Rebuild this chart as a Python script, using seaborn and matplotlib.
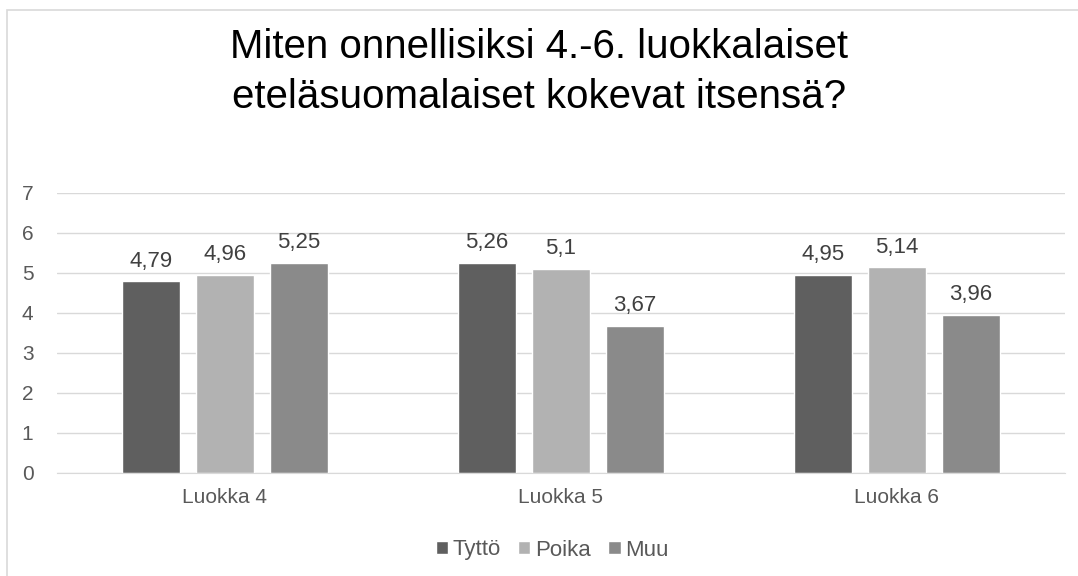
import pandas as pd
import numpy as np
import matplotlib
matplotlib.use("Agg")
import matplotlib.pyplot as plt
import seaborn as sns
from matplotlib.patches import Rectangle

# data
luokat = ["Luokka 4", "Luokka 5", "Luokka 6"]
sarjat = ["Tyttö", "Poika", "Muu"]
tytto = [4.79, 5.26, 4.95]
poika = [4.96, 5.10, 5.14]
muu = [5.25, 3.67, 3.96]
otsikko = "Miten onnellisiksi 4.-6. luokkalaiset\neteläsuomalaiset kokevat itsensä?"

df = pd.DataFrame({
    "luokka": luokat * 3,
    "sarja": [s for s in sarjat for _ in luokat],
    "arvo": tytto + poika + muu,
})

sns.set_style("white")
plt.rcParams["font.family"] = ["Liberation Sans", "DejaVu Sans"]

colors = ["#5f5f5f", "#b2b2b2", "#8a8a8a"]

fig = plt.figure(figsize=(10.78, 5.76), dpi=100)
ax = fig.add_axes([57 / 1078, 1 - 473 / 576, (1065 - 57) / 1078, (473 - 193) / 576])

sns.barplot(data=df, x="luokka", y="arvo", hue="sarja", order=luokat,
            hue_order=sarjat, palette=colors, width=0.66, gap=0.21,
            saturation=1, ax=ax, legend=True)

# chart frame
fig.patches.append(Rectangle((7 / 1078, -0.1), 1.2, 1 - 10 / 576 + 0.1,
                             transform=fig.transFigure, fill=False,
                             edgecolor="#d9d9d9", lw=1.2))

ax.set_ylim(0, 7)
ax.set_xlim(-0.5, 2.5)
ax.set_yticks(range(0, 8))
ax.yaxis.grid(True, color="#d9d9d9", lw=1)
ax.set_axisbelow(True)
for s in ["top", "right", "left"]:
    ax.spines[s].set_visible(False)
ax.spines["bottom"].set_color("#d9d9d9")
ax.tick_params(axis="both", length=0, labelsize=15, colors="#595959")
ax.tick_params(axis="y", pad=17)
ax.tick_params(axis="x", pad=11)
ax.set_xlabel("")
ax.set_ylabel("")

for cont in ax.containers:
    labels = [f"{v:g}".replace(".", ",") for v in cont.datavalues]
    ax.bar_label(cont, labels=labels, padding=7, fontsize=16, color="#404040")

handles, labs = ax.get_legend_handles_labels()
ax.legend(handles, labs, loc="center", bbox_to_anchor=(552 / 1078, (576 - 550) / 576),
          bbox_transform=fig.transFigure, ncol=3, frameon=False, fontsize=16,
          handlelength=0.55, handleheight=0.55, handletextpad=0.2, columnspacing=0.8,
          labelcolor="#595959")

fig.text(0.5, 1 - 72 / 576, otsikko, ha="center", va="center", fontsize=29,
         color="#000000", linespacing=1.4)

fig.savefig("out.png", dpi=100)
